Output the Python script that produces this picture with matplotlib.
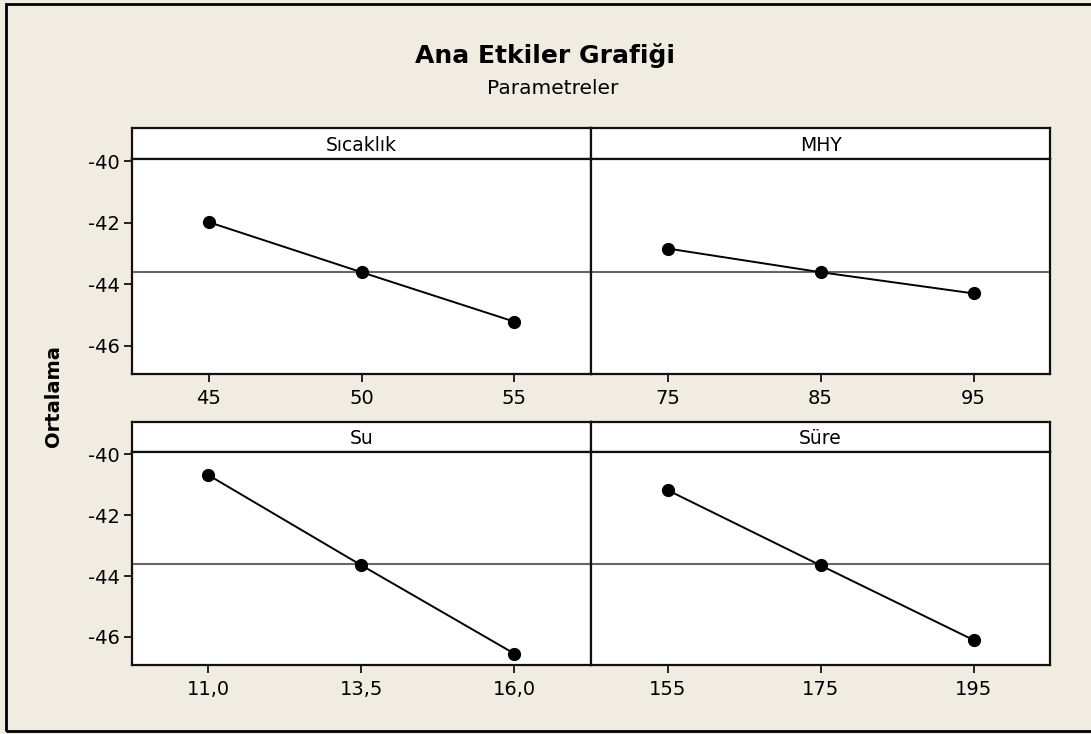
import matplotlib
matplotlib.use("Agg")
import matplotlib.pyplot as plt
from matplotlib.patches import Rectangle

# ---- data ----
factors = ["Sıcaklık", "MHY", "Su", "Süre"]
levels_sicaklik = [45, 50, 55]
levels_mhy = [75, 85, 95]
levels_su = [11.0, 13.5, 16.0]
levels_sure = [155, 175, 195]
labels_sicaklik = ["45", "50", "55"]
labels_mhy = ["75", "85", "95"]
labels_su = ["11,0", "13,5", "16,0"]
labels_sure = ["155", "175", "195"]
means_sicaklik = [-41.98, -43.61, -45.22]
means_mhy = [-42.84, -43.61, -44.30]
means_su = [-40.69, -43.65, -46.55]
means_sure = [-41.18, -43.65, -46.10]
grand_mean = -43.60
yticks = [-40, -42, -44, -46]
ytick_labels = ["-40", "-42", "-44", "-46"]

title = "Ana Etkiler Grafiği"
subtitle = "Parametreler"
ylabel = "Ortalama"

W, H = 1091, 734
BG = "#F0ECE2"
FONT = "DejaVu Sans"

fig = plt.figure(figsize=(W / 100, H / 100), dpi=100, facecolor=BG)

def frac(x0, y0, x1, y1):
    return [x0 / W, 1 - y1 / H, (x1 - x0) / W, (y1 - y0) / H]

# outer border
fig.patches.append(Rectangle((6 / W, 1 - 731 / H), (W + 10) / W, (731 - 3.5) / H,
                             transform=fig.transFigure, fill=False,
                             edgecolor="black", linewidth=2.0, zorder=0))

cols = [(132, 591), (591, 1050)]
rows = [(128, 159, 374), (422, 452, 665)]

panels = [
    (factors[0], levels_sicaklik, labels_sicaklik, means_sicaklik, 0, 0),
    (factors[1], levels_mhy, labels_mhy, means_mhy, 0, 1),
    (factors[2], levels_su, labels_su, means_su, 1, 0),
    (factors[3], levels_sure, labels_sure, means_sure, 1, 1),
]

ylim = (-46.92, -39.93)
frame_lw = 1.6

for name, lv, lab, mv, r, c in panels:
    x0, x1 = cols[c]
    yh, yp, yb = rows[r]
    # header strip
    axh = fig.add_axes(frac(x0, yh, x1, yp))
    axh.set_facecolor("white")
    axh.set_xticks([]); axh.set_yticks([])
    for s in axh.spines.values():
        s.set_linewidth(frame_lw); s.set_color("#111111")
    axh.text(0.5, 0.45, name, ha="center", va="center", fontsize=13.5,
             family=FONT, transform=axh.transAxes)
    # plot area
    ax = fig.add_axes(frac(x0, yp, x1, yb))
    ax.set_facecolor("white")
    for s in ax.spines.values():
        s.set_linewidth(frame_lw); s.set_color("#111111")
    d = lv[1] - lv[0]
    ax.set_xlim(lv[0] - d / 2, lv[-1] + d / 2)
    ax.set_ylim(*ylim)
    ax.axhline(grand_mean, color="#666666", linewidth=1.5, zorder=1)
    ax.plot(lv, mv, color="black", linewidth=1.4, marker="o",
            markersize=8.5, zorder=3)
    ax.set_xticks(lv)
    ax.set_xticklabels(lab, fontsize=14, family=FONT)
    ax.tick_params(axis="x", direction="out", length=5.5, width=1.2, pad=5)
    if c == 0:
        ax.set_yticks(yticks)
        ax.set_yticklabels(ytick_labels, fontsize=14, family=FONT)
        ax.tick_params(axis="y", direction="out", length=5.5, width=1.2, pad=3)
    else:
        ax.set_yticks([])

fig.text(545 / W, 1 - 56 / H, title, ha="center", va="center",
         fontsize=18, fontweight="bold", family=FONT)
fig.text(553 / W, 1 - 88 / H, subtitle, ha="center", va="center",
         fontsize=14.5, family=FONT)
fig.text(54 / W, 1 - 396 / H, ylabel, ha="center", va="center",
         rotation=90, fontsize=14, fontweight="bold", family=FONT)

fig.savefig("out.png", dpi=100, facecolor=BG)
